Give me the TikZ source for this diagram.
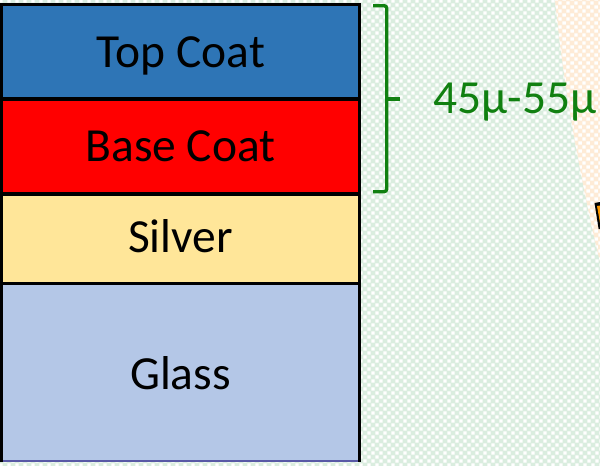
\documentclass[tikz,border=0pt]{standalone}
\usepackage{fontspec}
\setmainfont{Carlito}
\usetikzlibrary{patterns}
\pgfdeclarepatternformonly{checks}{\pgfpointorigin}{\pgfpoint{8.4pt}{8.4pt}}{\pgfpoint{8.4pt}{8.4pt}}{%
  \pgfpathrectangle{\pgfpoint{0.4pt}{0.4pt}}{\pgfpoint{3.6pt}{3.6pt}}%
  \pgfpathrectangle{\pgfpoint{4.6pt}{4.6pt}}{\pgfpoint{3.6pt}{3.6pt}}%
  \pgfusepath{fill}}
\definecolor{topblue}{RGB}{46,117,182}
\definecolor{basered}{RGB}{255,0,0}
\definecolor{silverc}{RGB}{255,230,153}
\definecolor{glassc}{RGB}{180,199,231}
\definecolor{bracegreen}{RGB}{16,128,16}
\definecolor{bggreen}{RGB}{218,237,223}
\definecolor{bgorange}{RGB}{254,235,214}
\begin{document}
\begin{tikzpicture}[x=1pt,y=-1pt,
  lbl/.style={font=\fontsize{47.5}{56}\selectfont, anchor=base, inner sep=0pt},
  sep/.style={line width=3.4pt, black}]
\useasboundingbox (0,0) rectangle (600,466);
% background
\fill[bggreen] (0,0) rectangle (600,466);
\fill[pattern=checks, pattern color=white] (0,0) rectangle (600,466);
\fill[bgorange] (555,0) .. controls (565,100) and (585,200) .. (600,262) -- (600,0) -- cycle;
\fill[pattern=checks, pattern color=white] (555,0) .. controls (565,100) and (585,200) .. (600,262) -- (600,0) -- cycle;
% partial icon at right edge
\fill[black] (594.5,203) -- (600,202) -- (600,229) -- (598.6,229) -- cycle;
\fill[orange!80!yellow] (597,206) -- (600,205.5) -- (600,223) -- cycle;
% layers
\fill[topblue] (1.7,4.3) rectangle (359.3,99);
\fill[basered] (1.7,99) rectangle (359.3,194);
\fill[silverc] (1.7,194) rectangle (359.3,283.5);
\fill[glassc] (1.7,283.5) rectangle (359.3,461);
\draw[gray!70!blue, line width=1.6pt] (1.7,461) -- (359.3,461);
\draw[sep] (1.7,462) -- (1.7,4.3) -- (359.3,4.3) -- (359.3,462);
\draw[sep] (1.7,99) -- (359.3,99);
\draw[sep] (1.7,194) -- (359.3,194);
\draw[sep] (1.7,283.5) -- (359.3,283.5);
% labels
\node[lbl] (tc) at (181,67.5) {Top Coat};
\node[lbl] (bc) at (180.5,161.5) {Base Coat};
\node[lbl] (sv) at (180.5,252) {Silver};
\node[lbl] (gl) at (180.5,389) {Glass};
% brace
\coordinate (b1) at (373,5.7);
\coordinate (b2) at (386.7,5.7);
\coordinate (b3) at (386.7,191.7);
\coordinate (b4) at (373,191.7);
\coordinate (bm) at (386.7,99);
\coordinate (bt) at (400,99);
\draw[bracegreen, line width=3.3pt, rounded corners=2.5pt] (b1) -- (b2) -- (b3) -- (b4);
\draw[bracegreen, line width=3.3pt] (bm) -- (bt);
\node[lbl, anchor=base west, text=bracegreen] (th) at (433,113) {45μ-55μ};
\end{tikzpicture}
\end{document}
